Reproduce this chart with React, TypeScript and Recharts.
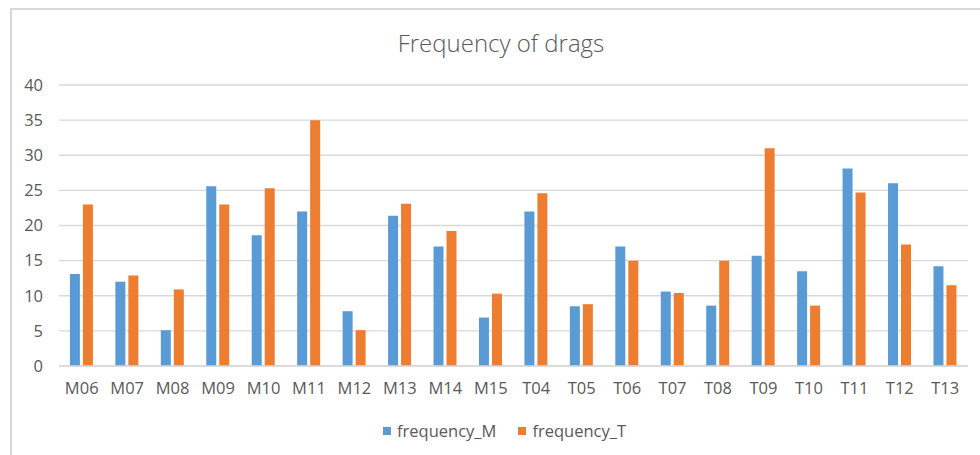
import React from "react";
import { BarChart, Bar, XAxis, YAxis, CartesianGrid } from "recharts";

// Participants (categories along the x axis)
const participants = [
  "M06", "M07", "M08", "M09", "M10", "M11", "M12", "M13", "M14", "M15",
  "T04", "T05", "T06", "T07", "T08", "T09", "T10", "T11", "T12", "T13",
];

// Drag counts per participant
const frequencyM = [
  13.1, 12.0, 5.1, 25.6, 18.6, 22.0, 7.8, 21.4, 17.0, 6.9,
  22.0, 8.5, 17.0, 10.6, 8.6, 15.7, 13.5, 28.1, 26.0, 14.2,
];
const frequencyT = [
  23.0, 12.9, 10.9, 23.0, 25.3, 35.0, 5.1, 23.1, 19.2, 10.3,
  24.6, 8.8, 15.0, 10.4, 15.0, 31.0, 8.6, 24.7, 17.3, 11.5,
];

const yTicks = [0, 5, 10, 15, 20, 25, 30, 35, 40];

const seriesNames = ["frequency_M", "frequency_T"];
const seriesColors = ["#5B9BD5", "#ED7D31"];

const chartData = participants.map((name, i) => ({
  name,
  frequency_M: frequencyM[i],
  frequency_T: frequencyT[i],
}));

const FONT = "'Open Sans', 'Noto Sans', sans-serif";
const TEXT = "#595959";
const GRID = "#D9D9D9";

export default function App() {
  return (
    <div
      style={{
        position: "absolute",
        left: 0,
        top: 0,
        width: 980,
        height: 455,
        background: "#fff",
        overflow: "hidden",
        fontFamily: FONT,
      }}
    >
      {/* chart frame */}
      <div
        style={{
          position: "absolute",
          left: 10,
          top: 8,
          width: 980,
          height: 460,
          borderTop: `2px solid ${GRID}`,
          borderLeft: `2px solid ${GRID}`,
          boxSizing: "border-box",
        }}
      />
      <div
        style={{
          position: "absolute",
          left: 0,
          width: 1002,
          top: 28,
          textAlign: "center",
          fontSize: 24,
          fontWeight: 300,
          color: TEXT,
          lineHeight: "30px",
        }}
      >
        Frequency of drags
      </div>
      <div style={{ position: "absolute", left: 0, top: 0 }}>
        <BarChart
          width={980}
          height={455}
          data={chartData}
          margin={{ top: 85, right: 12, bottom: 59, left: 0 }}
          barCategoryGap="24%"
          barGap={3}
        >
          <CartesianGrid vertical={false} stroke={GRID} strokeWidth={1.3} />
          <XAxis
            dataKey="name"
            tickLine={false}
            axisLine={{ stroke: GRID, strokeWidth: 1.3 }}
            tick={{ fill: TEXT, fontSize: 16.5, fontFamily: FONT }}
            tickMargin={10}
            interval={0}
            height={30}
          />
          <YAxis
            domain={[0, 40]}
            ticks={yTicks}
            width={59}
            tickLine={false}
            axisLine={false}
            tick={{ fill: TEXT, fontSize: 16.5, fontFamily: FONT }}
            tickMargin={10}
          />
          {seriesNames.map((key, i) => (
            <Bar
              key={key}
              dataKey={key}
              fill={seriesColors[i]}
              isAnimationActive={false}
            />
          ))}
        </BarChart>
      </div>
      {/* legend */}
      <div
        style={{
          position: "absolute",
          top: 419,
          left: 383,
          display: "flex",
          alignItems: "center",
          fontSize: 16.5,
          color: TEXT,
          lineHeight: "24px",
        }}
      >
        {seriesNames.map((name, i) => (
          <div
            key={name}
            style={{ display: "flex", alignItems: "center", marginRight: 22 }}
          >
            <span
              style={{
                display: "inline-block",
                width: 8,
                height: 8,
                background: seriesColors[i],
                marginRight: 6,
              }}
            />
            <span>{name}</span>
          </div>
        ))}
      </div>
    </div>
  );
}
